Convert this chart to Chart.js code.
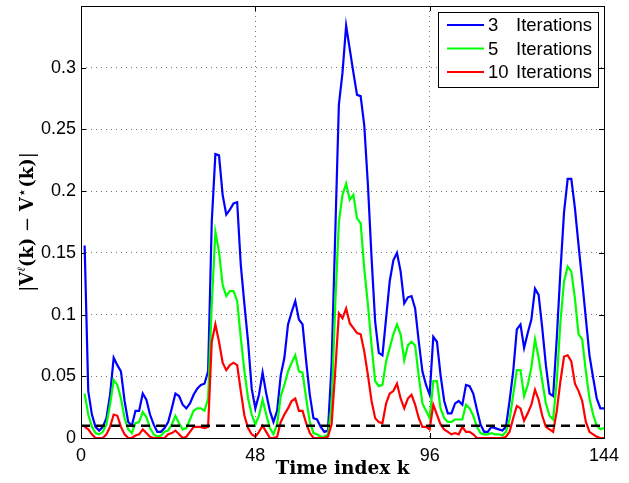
<!DOCTYPE html>
<html>
<head>
<meta charset="utf-8">
<script src="https://cdn.jsdelivr.net/npm/chart.js@4"></script>
<style>
  html, body { margin: 0; padding: 0; background: #fff; }
</style>
</head>
<body>
<canvas id="errChart" width="629" height="483"></canvas>
<script>
// error per time index k = 1..144, one array per iteration count
const iterations = [3, 5, 10];
const err3 = [
  0.156, 0.038, 0.019, 0.009, 0.006, 0.009, 0.016, 0.035, 0.065, 0.059, 0.054, 0.030,
  0.013, 0.010, 0.022, 0.022, 0.036, 0.031, 0.019, 0.011, 0.005, 0.005, 0.008, 0.013,
  0.024, 0.036, 0.034, 0.027, 0.024, 0.028, 0.035, 0.040, 0.043, 0.044, 0.054, 0.175,
  0.230, 0.229, 0.197, 0.181, 0.185, 0.190, 0.191, 0.140, 0.108, 0.078, 0.040, 0.024,
  0.035, 0.053, 0.036, 0.022, 0.013, 0.022, 0.051, 0.065, 0.092, 0.102, 0.111, 0.096,
  0.092, 0.062, 0.035, 0.016, 0.015, 0.009, 0.005, 0.006, 0.060, 0.165, 0.270, 0.296,
  0.334, 0.315, 0.296, 0.278, 0.277, 0.253, 0.205, 0.146, 0.094, 0.069, 0.067, 0.097,
  0.127, 0.144, 0.150, 0.135, 0.109, 0.114, 0.115, 0.105, 0.078, 0.054, 0.043, 0.035,
  0.082, 0.078, 0.051, 0.030, 0.020, 0.020, 0.028, 0.030, 0.027, 0.043, 0.042, 0.036,
  0.023, 0.011, 0.005, 0.005, 0.009, 0.008, 0.007, 0.006, 0.009, 0.030, 0.054, 0.088,
  0.092, 0.073, 0.085, 0.096, 0.121, 0.116, 0.089, 0.059, 0.036, 0.034, 0.081, 0.135,
  0.183, 0.210, 0.210, 0.186, 0.156, 0.127, 0.097, 0.067, 0.049, 0.032, 0.024, 0.024
];
const err5 = [
  0.036, 0.019, 0.009, 0.004, 0.003, 0.005, 0.011, 0.027, 0.047, 0.043, 0.032, 0.016,
  0.007, 0.004, 0.012, 0.013, 0.021, 0.017, 0.008, 0.003, 0.001, 0.002, 0.005, 0.006,
  0.011, 0.018, 0.012, 0.007, 0.008, 0.015, 0.022, 0.024, 0.024, 0.022, 0.032, 0.108,
  0.167, 0.151, 0.124, 0.115, 0.119, 0.119, 0.111, 0.081, 0.054, 0.032, 0.019, 0.011,
  0.018, 0.031, 0.019, 0.008, 0.003, 0.011, 0.034, 0.043, 0.054, 0.061, 0.067, 0.054,
  0.053, 0.032, 0.013, 0.004, 0.003, 0.001, 0.001, 0.003, 0.027, 0.108, 0.175, 0.197,
  0.206, 0.193, 0.197, 0.178, 0.174, 0.137, 0.108, 0.075, 0.046, 0.042, 0.043, 0.062,
  0.073, 0.084, 0.092, 0.084, 0.063, 0.075, 0.078, 0.075, 0.050, 0.028, 0.022, 0.016,
  0.046, 0.046, 0.024, 0.016, 0.013, 0.013, 0.015, 0.015, 0.015, 0.027, 0.024, 0.018,
  0.009, 0.004, 0.003, 0.003, 0.004, 0.003, 0.003, 0.002, 0.005, 0.015, 0.035, 0.055,
  0.055, 0.034, 0.043, 0.057, 0.080, 0.065, 0.046, 0.028, 0.018, 0.015, 0.046, 0.094,
  0.127, 0.139, 0.135, 0.113, 0.084, 0.080, 0.054, 0.032, 0.019, 0.010, 0.007, 0.008
];
const err10 = [
  0.009, 0.007, 0.003, 0.000, 0.000, 0.000, 0.003, 0.009, 0.019, 0.018, 0.009, 0.003,
  0.000, 0.000, 0.002, 0.003, 0.007, 0.004, 0.001, 0.000, 0.000, 0.000, 0.000, 0.003,
  0.004, 0.006, 0.003, 0.000, 0.001, 0.005, 0.009, 0.009, 0.009, 0.008, 0.009, 0.078,
  0.092, 0.078, 0.061, 0.055, 0.059, 0.061, 0.059, 0.038, 0.018, 0.008, 0.003, 0.001,
  0.005, 0.010, 0.005, 0.000, 0.000, 0.001, 0.013, 0.019, 0.024, 0.030, 0.032, 0.022,
  0.022, 0.012, 0.004, 0.000, 0.000, 0.000, 0.000, 0.001, 0.011, 0.054, 0.101, 0.097,
  0.105, 0.093, 0.089, 0.085, 0.084, 0.070, 0.051, 0.030, 0.016, 0.013, 0.012, 0.028,
  0.036, 0.038, 0.044, 0.032, 0.024, 0.032, 0.035, 0.027, 0.016, 0.009, 0.009, 0.007,
  0.027, 0.019, 0.011, 0.007, 0.005, 0.003, 0.004, 0.003, 0.009, 0.005, 0.005, 0.003,
  0.000, 0.000, 0.000, 0.000, 0.000, 0.000, 0.000, 0.000, 0.001, 0.005, 0.016, 0.026,
  0.024, 0.014, 0.020, 0.027, 0.039, 0.031, 0.018, 0.009, 0.007, 0.005, 0.022, 0.046,
  0.066, 0.067, 0.062, 0.044, 0.038, 0.030, 0.013, 0.005, 0.003, 0.001, 0.000, 0.000
];
const threshold = 0.01;
const xRange = [0, 144];
const xTicks = [0, 48, 96, 144];
const yTicks = [0, 0.05, 0.1, 0.15, 0.2, 0.25, 0.3];
const yTickLabels = ['0', '0.05', '0.1', '0.15', '0.2', '0.25', '0.3'];

const lineColors = ['#0000ff', '#00ff00', '#ff0000'];
const tickFont = { family: 'Liberation Sans', size: 18 };

const toPoints = arr => arr.map((v, i) => ({ x: i + 1, y: v }));

// MATLAB style box, inner ticks, legend and y label
const matlabBits = {
    id: 'matlabBits',
    afterDatasetsDraw(chart) {
        const { ctx, chartArea: a, scales } = chart;
        ctx.save();
        ctx.strokeStyle = '#000';
        ctx.lineWidth = 1;
        ctx.setLineDash([]);
        ctx.strokeRect(a.left + 0.5, a.top + 0.5, a.right - a.left, a.bottom - a.top);

        ctx.beginPath();
        yTicks.forEach(v => {
            const y = Math.round(scales.y.getPixelForValue(v)) + 0.5;
            ctx.moveTo(a.left, y); ctx.lineTo(a.left + 5, y);
            ctx.moveTo(a.right, y); ctx.lineTo(a.right - 5, y);
        });
        xTicks.forEach(v => {
            const x = Math.round(scales.x.getPixelForValue(v)) + 0.5;
            ctx.moveTo(x, a.bottom); ctx.lineTo(x, a.bottom - 5);
            ctx.moveTo(x, a.top); ctx.lineTo(x, a.top + 5);
        });
        ctx.stroke();

        // legend box
        const box = { left: 438, top: 12, right: 598, bottom: 87 };
        ctx.fillStyle = '#fff';
        ctx.fillRect(box.left, box.top, box.right - box.left, box.bottom - box.top);
        ctx.strokeRect(box.left + 0.5, box.top + 0.5, box.right - box.left, box.bottom - box.top);
        ctx.font = '18.5px "Liberation Sans"';
        ctx.textBaseline = 'middle';
        ctx.fillStyle = '#000';
        iterations.forEach((n, i) => {
            const y = 25 + i * 23.5;
            ctx.strokeStyle = lineColors[i];
            ctx.lineWidth = 2.2;
            ctx.beginPath();
            ctx.moveTo(447, y); ctx.lineTo(484, y);
            ctx.stroke();
            ctx.fillText(String(n), 488, y + 1);
            ctx.fillText('Iterations', 516, y + 1);
        });
        ctx.restore();
    },
    afterDraw(chart) {
        const { ctx, chartArea: a } = chart;
        const parts = [
            { t: '|', f: '18px "DejaVu Serif"', dy: 0 },
            { t: 'V', f: 'bold 18px "DejaVu Serif"', dy: 0 },
            { t: 'ℓ', f: 'italic 11px "DejaVu Serif"', dy: -8 },
            { t: '(k)', f: 'bold 18px "DejaVu Serif"', dy: 0 },
            { t: ' − ', f: '18px "DejaVu Serif"', dy: 0 },
            { t: 'V', f: 'bold 18px "DejaVu Serif"', dy: 0 },
            { t: '⋆', f: '15px "DejaVu Sans"', dy: -6 },
            { t: '(k)', f: 'bold 18px "DejaVu Serif"', dy: 0 },
            { t: '|', f: '18px "DejaVu Serif"', dy: 0 }
        ];
        ctx.save();
        ctx.fillStyle = '#000';
        ctx.textBaseline = 'alphabetic';
        let total = 0;
        parts.forEach(p => { ctx.font = p.f; p.w = ctx.measureText(p.t).width; total += p.w; });
        ctx.translate(33, (a.top + a.bottom) / 2);
        ctx.rotate(-Math.PI / 2);
        let x = -total / 2;
        parts.forEach(p => {
            ctx.font = p.f;
            ctx.fillText(p.t, x, p.dy);
            x += p.w;
        });
        ctx.restore();
    }
};

const ctx = document.getElementById('errChart').getContext('2d');

new Chart(ctx, {
    type: 'line',
    data: {
        datasets: [
            {
                label: 'threshold',
                data: [{ x: xRange[0], y: threshold }, { x: xRange[1], y: threshold }],
                borderColor: '#000',
                borderWidth: 2.5,
                borderDash: [9, 6],
                order: 0
            },
            {
                label: iterations[2] + ' Iterations',
                data: toPoints(err10),
                borderColor: lineColors[2],
                borderWidth: 2.2,
                order: 1
            },
            {
                label: iterations[1] + ' Iterations',
                data: toPoints(err5),
                borderColor: lineColors[1],
                borderWidth: 2.2,
                order: 2
            },
            {
                label: iterations[0] + ' Iterations',
                data: toPoints(err3),
                borderColor: lineColors[0],
                borderWidth: 2.2,
                order: 3
            }
        ]
    },
    options: {
        responsive: false,
        animation: false,
        layout: { padding: { left: 0, right: 25, top: 6, bottom: 0 } },
        elements: { point: { radius: 0 }, line: { tension: 0 } },
        datasets: { line: { clip: 3 } },
        plugins: {
            legend: { display: false },
            tooltip: { enabled: false }
        },
        scales: {
            x: {
                type: 'linear',
                min: xRange[0],
                max: xRange[1],
                afterBuildTicks: scale => { scale.ticks = xTicks.map(v => ({ value: v })); },
                afterFit: scale => { scale.height = 45; },
                ticks: { font: tickFont, color: '#000', padding: 7, maxRotation: 0 },
                grid: { color: 'rgba(0,0,0,0.55)', lineWidth: 1, drawTicks: false },
                border: { display: false, dash: [1, 4] },
                title: {
                    display: true,
                    text: 'Time index k',
                    color: '#000',
                    font: { family: 'DejaVu Serif', weight: 'bold', size: 18.5 },
                    padding: { top: 0, bottom: 3 }
                }
            },
            y: {
                min: 0,
                max: 0.35,
                afterBuildTicks: scale => { scale.ticks = yTicks.map(v => ({ value: v })); },
                afterFit: scale => {
                    scale.width = 81;
                    scale.paddingTop = 0;
                    scale.paddingBottom = 0;
                },
                ticks: {
                    font: tickFont,
                    color: '#000',
                    padding: 5,
                    callback: (v, i) => yTickLabels[i]
                },
                grid: { color: 'rgba(0,0,0,0.55)', lineWidth: 1, drawTicks: false },
                border: { display: false, dash: [1, 4] }
            }
        }
    },
    plugins: [matlabBits]
});
</script>
</body>
</html>
